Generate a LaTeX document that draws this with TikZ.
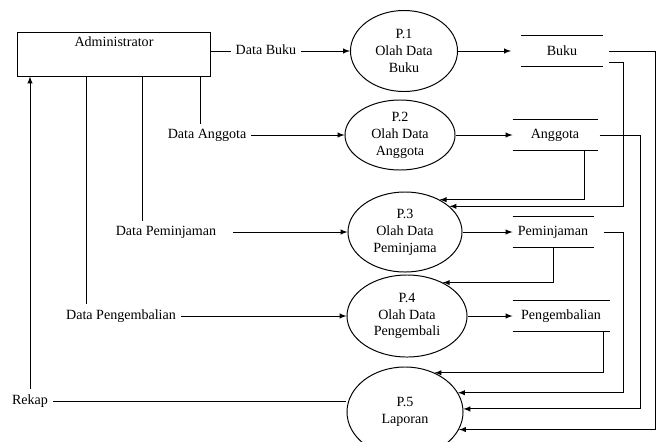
\documentclass[tikz,border=0pt]{standalone}
\usepackage{fontspec}
\setmainfont{Liberation Serif}
\usetikzlibrary{shapes.geometric}

\begin{document}
\begin{tikzpicture}[x=0.025cm,y=-0.025cm,line width=0.7pt,
  proses/.style={draw,ellipse,inner sep=0pt,align=center},
  simpan/.style={inner sep=0pt,minimum height=0.75cm}]
\clip (0,0) rectangle (662,441);
\node[draw,minimum width=4.8cm,minimum height=1.1cm,text depth=0.6cm] (admin) at (114,54) {Administrator};
\node[proses,minimum width=2.675cm,minimum height=2.025cm] (p1) at (404,51) {P.1\\Olah Data\\Buku};
\node[proses,minimum width=2.75cm,minimum height=1.75cm] (p2) at (400,135) {P.2\\Olah Data\\Anggota};
\node[proses,minimum width=2.85cm,minimum height=2cm] (p3) at (405,232) {P.3\\Olah Data\\Peminjama};
\node[proses,minimum width=3cm,minimum height=2.05cm] (p4) at (407,316) {P.4\\Olah Data\\Pengembali};
\node[proses,minimum width=2.9cm,minimum height=2.25cm] (p5) at (405,412) {P.5\\Laporan};
\node[simpan,minimum width=2.025cm] (buku) at (562,51) {Buku};
\node[simpan,minimum width=2.1cm] (anggota) at (555,135) {Anggota};
\node[simpan,minimum width=2cm] (peminjaman) at (553,232) {Peminjaman};
\node[simpan,minimum width=2.4cm] (pengembalian) at (561,316) {Pengembalian};
\foreach \s in {buku,anggota,peminjaman,pengembalian}
  \draw (\s.north west) -- (\s.north east) (\s.south west) -- (\s.south east);
\node[anchor=mid] (dbuku) at (266,51) {Data Buku};
\node[anchor=mid] (danggota) at (207,135) {Data Anggota};
\node[anchor=mid] (dpinjam) at (166,232) {Data Peminjaman};
\node[anchor=mid] (dkembali) at (121,316) {Data Pengembalian};
\node[anchor=mid] (rekap) at (30,401) {Rekap};
\draw (admin.east |- dbuku.mid west) -- (dbuku.mid west);
\draw [->,>=latex] (dbuku.mid east) -- (p1.west);
\draw ([xshift=-0.25cm]admin.south east) -- ([xshift=-0.25cm]admin.south east |- danggota.north);
\draw [->,>=latex] (danggota.mid east) -- (p2.west);
\draw ([xshift=3.125cm]admin.south west) -- ([xshift=3.125cm]admin.south west |- dpinjam.north);
\draw [->,>=latex] ([xshift=0.3cm]dpinjam.mid east) -- (p3.west);
\draw ([xshift=1.725cm]admin.south west) -- ([xshift=1.725cm]admin.south west |- dkembali.north);
\draw [->,>=latex] (dkembali.mid east) -- (p4.west);
\draw (rekap.mid east) -- (rekap.mid east -| p5.west);
\draw [->,>=latex] (rekap.north) -- (rekap.north |- admin.south);
\draw [->,>=latex] (p1.east) -- ([xshift=-0.25cm]buku.west);
\draw [->,>=latex] (p2.east) -- (anggota.west);
\draw [->,>=latex] (p3.east) -- (peminjaman.west);
\draw [->,>=latex] (p4.east) -- (pengembalian.west);
\draw [->,>=latex] ([xshift=0.15cm]buku.east) -- ++(46,0) |- (p5.-18);
\draw [->,>=latex] ([xshift=0.15cm,yshift=0.1cm]buku.south east) -- ++(14,0) |- (p3.30);
\draw [->,>=latex] ([xshift=0.05cm]anggota.east) -- ++(41,0) |- (p5.3);
\draw [->,>=latex] ([xshift=-0.325cm]anggota.south east) |- (p3.43);
\draw [->,>=latex] ([xshift=0.25cm]peminjaman.east) -- ++(20,0) |- (p5.20);
\draw [->,>=latex] (peminjaman.south) |- (p4.43);
\draw [->,>=latex] ([xshift=-0.15cm]pengembalian.south east) |- (p5.53);
\end{tikzpicture}
\end{document}
